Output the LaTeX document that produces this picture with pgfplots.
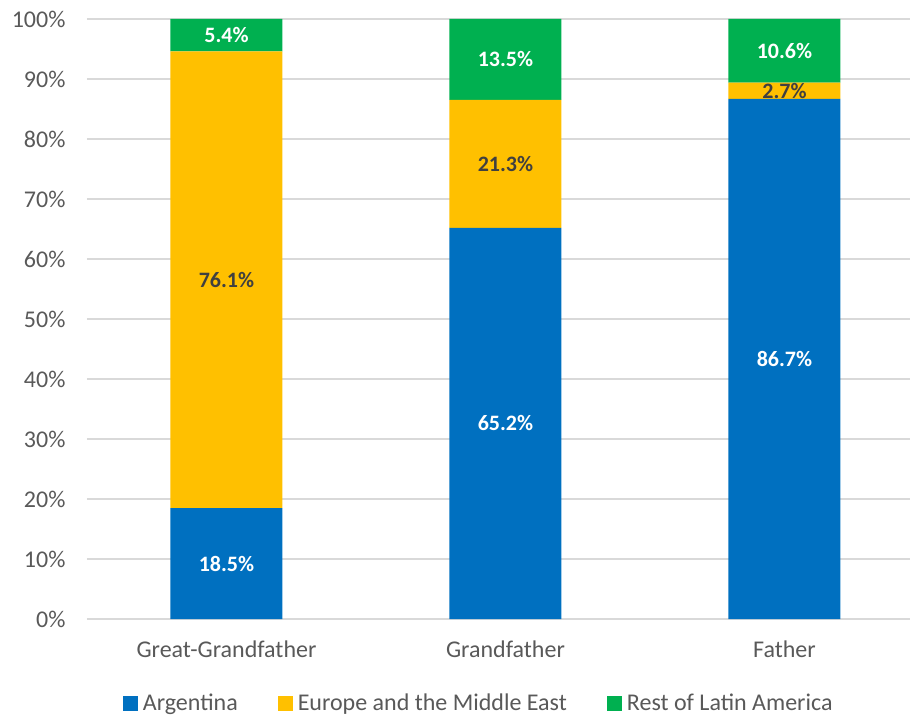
\documentclass[border=0pt]{standalone}
\usepackage{pgfplots}
\pgfplotsset{compat=1.18}
\usepackage{fontspec}
\setmainfont{Carlito}
\definecolor{cblue}{HTML}{0070C0}
\definecolor{cgold}{HTML}{FFC000}
\definecolor{cgreen}{HTML}{00B050}
\definecolor{tickgray}{HTML}{595959}
\definecolor{gridgray}{HTML}{D9D9D9}
\definecolor{labdark}{HTML}{404040}
\begin{document}
\begin{tikzpicture}
\useasboundingbox (-87pt,-96pt) rectangle (825pt,619pt);
\pgfplotsset{base/.style={scale only axis, width=823pt, height=600pt, at={(0,0)}, anchor=south west,
  xmin=-0.5, xmax=2.45, ymin=0, ymax=100}}
\begin{axis}[base, ybar stacked, bar width=112pt,
  axis line style={draw=none}, major tick length=0pt,
  ymajorgrids, grid style={gridgray, line width=1.5pt},
  ytick={0,10,...,100}, yticklabel={\pgfmathprintnumber{\tick}\%},
  /pgf/number format/assume math mode=true,
  xtick={0,1,2}, xticklabels={Great-Grandfather, Grandfather, Father},
  tick label style={font=\fontsize{24}{28}\selectfont, text=tickgray},
  yticklabel style={xshift=-18pt},
  xticklabel style={yshift=-18pt},
  legend columns=3,
  legend cell align=left,
  legend image code/.code={\fill[#1] (0pt,-7.5pt) rectangle (15pt,7.5pt);},
  legend style={draw=none, at={(0.476,-0.14)}, anchor=center,
    font=\fontsize{24}{28}\selectfont, text=tickgray,
    /tikz/every odd column/.append style={column sep=3pt},
    /tikz/every even column/.append style={column sep=38pt}},
]
\addplot[fill=cblue, draw=none] coordinates {(0,18.5) (1,65.2) (2,86.7)};
\addlegendentry{Argentina}
\addplot[fill=cgold, draw=none] coordinates {(0,76.1) (1,21.3) (2,2.7)};
\addlegendentry{Europe and the Middle East}
\addplot[fill=cgreen, draw=none] coordinates {(0,5.4) (1,13.5) (2,10.6)};
\addlegendentry{Rest of Latin America}
\end{axis}
\begin{axis}[base, hide axis]
\addplot[draw=none, mark=none, nodes near coords, point meta=explicit symbolic,
  nodes near coords style={anchor=center, font=\fontsize{22}{26}\selectfont\bfseries, text=white}]
  coordinates {(0,9.25)[18.5\%] (1,32.6)[65.2\%] (2,43.35)[86.7\%]
               (0,97.3)[5.4\%] (1,93.25)[13.5\%] (2,94.7)[10.6\%]};
\addplot[draw=none, mark=none, nodes near coords, point meta=explicit symbolic,
  nodes near coords style={anchor=center, font=\fontsize{22}{26}\selectfont\bfseries, text=labdark}]
  coordinates {(0,56.55)[76.1\%] (1,75.85)[21.3\%] (2,88.05)[2.7\%]};
\end{axis}
\end{tikzpicture}
\end{document}
